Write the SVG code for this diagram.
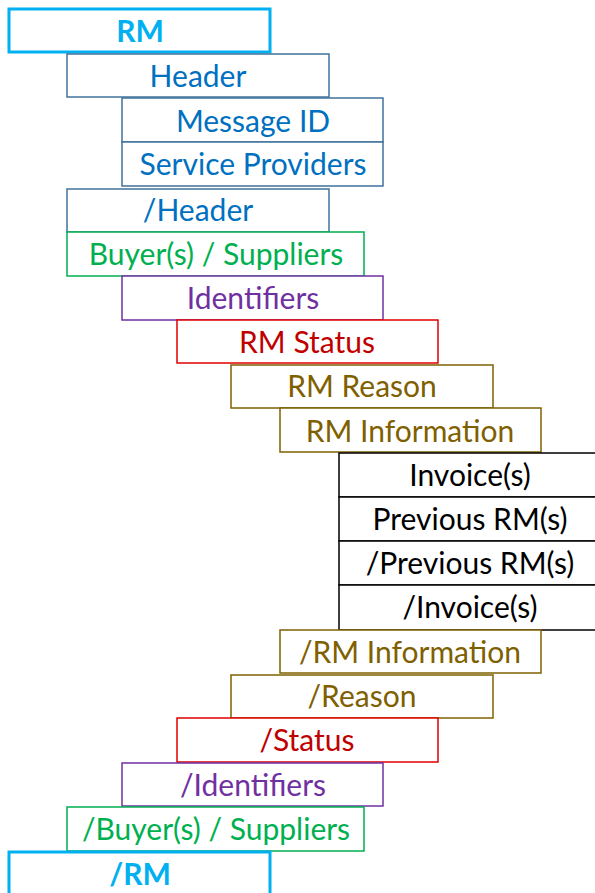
<svg xmlns="http://www.w3.org/2000/svg" width="595" height="893" viewBox="0 0 595 893">
<style>
text{font-family:Lato,"Noto Sans",sans-serif;font-size:30px;text-anchor:middle}
rect{fill:#fff}
.rm rect{stroke:#00B0F0;stroke-width:3}
.rm text{fill:#00B0F0;font-weight:bold}
.hd rect{stroke:#41719C;stroke-width:1.5}
.hd text{fill:#0070C0}
.gr rect{stroke:#00B050;stroke-width:1.5}
.gr text{fill:#00B050}
.pu rect{stroke:#7030A0;stroke-width:1.5}
.pu text{fill:#7030A0}
.re rect{stroke:#E00000;stroke-width:1.5}
.re text{fill:#C00000}
.ol rect{stroke:#7F6000;stroke-width:1.5}
.ol text{fill:#7F6000}
.bk rect{stroke:#000;stroke-width:1.5}
.bk text{fill:#000}
</style>
<g id="rm" class="rm"><rect x="9" y="9" width="261" height="43"/><text x="140" y="42">RM</text></g>
<g id="header" class="hd"><rect x="67" y="54" width="262" height="43"/><text x="198" y="87">Header</text></g>
<g id="messageid" class="hd"><rect x="122" y="98" width="261" height="44"/><text x="253" y="132">Message ID</text></g>
<g id="serviceproviders" class="hd"><rect x="122" y="142" width="261" height="44"/><text x="253" y="175">Service Providers</text></g>
<g id="header-end" class="hd"><rect x="67" y="189" width="262" height="43"/><text x="198" y="221">/Header</text></g>
<g id="buyers" class="gr"><rect x="67" y="232" width="297" height="44"/><text x="216" y="265">Buyer(s) / Suppliers</text></g>
<g id="identifiers" class="pu"><rect x="122" y="276" width="261" height="44"/><text x="253" y="309">Identifiers</text></g>
<g id="status" class="re"><rect x="177" y="320" width="261" height="43"/><text x="307" y="353">RM Status</text></g>
<g id="reason" class="ol"><rect x="231" y="365" width="262" height="43"/><text x="362" y="397">RM Reason</text></g>
<g id="information" class="ol"><rect x="280" y="408" width="261" height="44"/><text x="410" y="442">RM Information</text></g>
<g id="invoices" class="bk"><rect x="339" y="453" width="270" height="44"/><text x="470" y="486">Invoice(s)</text></g>
<g id="previous" class="bk"><rect x="339" y="497" width="270" height="44"/><text x="470" y="530">Previous RM(s)</text></g>
<g id="previous-end" class="bk"><rect x="339" y="541" width="270" height="44"/><text x="470" y="574">/Previous RM(s)</text></g>
<g id="invoices-end" class="bk"><rect x="339" y="585" width="270" height="45"/><text x="470" y="618">/Invoice(s)</text></g>
<g id="information-end" class="ol"><rect x="280" y="630" width="261" height="43"/><text x="410" y="663">/RM Information</text></g>
<g id="reason-end" class="ol"><rect x="231" y="675" width="262" height="43"/><text x="362" y="707">/Reason</text></g>
<g id="status-end" class="re"><rect x="177" y="718" width="261" height="44"/><text x="307" y="751">/Status</text></g>
<g id="identifiers-end" class="pu"><rect x="122" y="763" width="261" height="43"/><text x="253" y="796">/Identifiers</text></g>
<g id="buyers-end" class="gr"><rect x="67" y="807" width="297" height="44"/><text x="216" y="840">/Buyer(s) / Suppliers</text></g>
<g id="rm-end" class="rm"><rect x="9" y="852" width="261" height="50"/><text x="140" y="885">/RM</text></g>
<g id="connectors"></g>
</svg>
